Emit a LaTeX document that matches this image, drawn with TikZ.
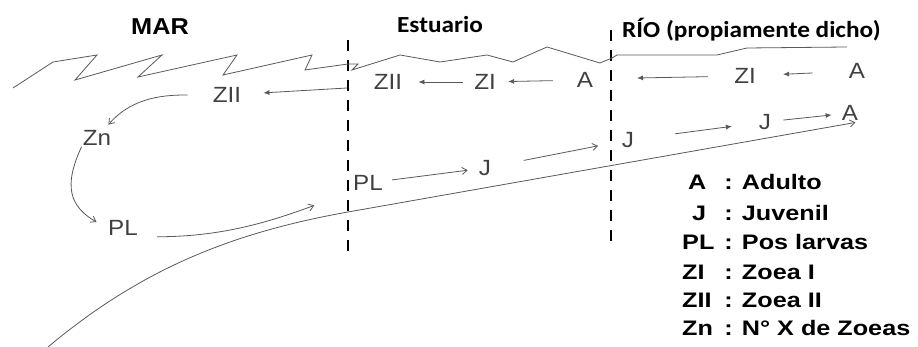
\documentclass[tikz,border=0pt]{standalone}
\usepackage{fontspec}
\setmainfont{Liberation Sans}
\newfontfamily\calibri{Carlito}
\usetikzlibrary{arrows.meta}
\definecolor{ink}{gray}{0.25}
\definecolor{wire}{gray}{0.35}
\begin{document}
\begin{tikzpicture}[x=1pt,y=1pt,
  lbl/.style={font=\fontsize{22}{26}\selectfont, text=ink, xscale=1.1, inner sep=1pt},
  head/.style={font=\fontsize{23}{27}\selectfont\bfseries, xscale=1.1, inner sep=0pt},
  key/.style={font=\fontsize{21}{25}\selectfont\bfseries, xscale=1.2, inner sep=0pt, anchor=base west},
  border/.style={line width=2pt, dash pattern=on 11pt off 9pt},
  shore/.style={wire, line width=0.8pt},
  fwd/.style={wire, line width=0.8pt, -{Latex[length=6pt,width=5pt]}},
  drift/.style={wire, line width=0.8pt, -{Straight Barb[length=5pt,width=7pt]}}]
\useasboundingbox (0,0) rectangle (918,347);
% zonas
\node[head] (mar) at (160,320) {MAR};
\node[head] (est) at (440,322) {\calibri Estuario};
\node[head, anchor=west] (rio) at (622,317) {\calibri RÍO (propiamente dicho)};
\coordinate (eTop) at (348,307); \coordinate (eBot) at (348,92);
\coordinate (rTop) at (611,317); \coordinate (rBot) at (611,100);
\draw[border] (eTop) -- (eBot);
\draw[border] (rTop) -- (rBot);
% costa
\draw[shore] (13,259) -- (53,285) -- (97,292) -- (75,267) -- (162,292) -- (138,270) -- (237,292)
  -- (223,272) -- (312,292) -- (305,277) -- (348,283) -- (358,283) -- (352,277) -- (400,292)
  -- (440,285) -- (487,292) -- (513,285) -- (547,300) -- (600,284) -- (612,289) -- (617,292)
  -- (717,292) -- (747,299) -- (847,300);
\coordinate (sea) at (48,0);
\coordinate (bank) at (348,135);
% estadios
\node[lbl] (ziiM) at (227,252) {ZII};
\node[lbl] (zn) at (97,209) {Zn};
\node[lbl] (plM) at (123,119) {PL};
\node[lbl] (plE) at (368,164) {PL};
\node[lbl] (jE) at (485,179) {J};
\node[lbl] (ziiE) at (388,265) {ZII};
\node[lbl] (ziE) at (485,265) {ZI};
\node[lbl] (aE) at (585,267) {A};
\node[lbl] (ziR) at (745,271) {ZI};
\node[lbl] (aR1) at (857,276) {A};
\node[lbl] (jR1) at (628,207) {J};
\node[lbl] (jR2) at (765,225) {J};
\node[lbl] (aR2) at (850,234) {A};
% migracion
\coordinate (gate) at (347,259);
\coordinate (mouth) at (637,269);
\draw[fwd, shorten >=21pt] (gate) -- (ziiM);
\draw[fwd, shorten <=10pt, shorten >=15pt] (ziE) -- (ziiE);
\draw[fwd, shorten <=23pt, shorten >=11pt] (aE) -- (ziE);
\draw[fwd, shorten <=25pt] (ziR) -- (mouth);
\draw[fwd, shorten <=35pt, shorten >=26pt] (aR1) -- (ziR);
\draw[fwd, shorten <=40pt, shorten >=26pt] (jR1) -- (jR2);
\draw[fwd, shorten <=11pt, shorten >=9pt] (jR2) -- (aR2);
\draw[drift, shorten <=32pt, shorten >=23pt] (jE) -- (jR1);
\draw[drift, shorten <=8pt, shorten >=10pt] (plE) -- (jE);
\draw[drift, shorten <=24pt, shorten >=6pt] (ziiM) to[out=180,in=50] (zn);
\draw[drift, shorten >=12pt] (zn.south west) to[out=245,in=150,looseness=1.3] (plM.west);
\draw[drift, shorten <=18pt, shorten >=40pt] (plM.south east) to[out=0,in=200] (plE.south west);
\draw[drift, shorten >=4pt] (sea) .. controls (140,77) and (230,114) .. (bank) -- (aR2.south east);
% leyenda
\node[key] (kA) at (688,157.5) {A};
\node[key] (dA) at (724,157.5) {: Adulto};
\node[key] (kJ) at (692,126.5) {J};
\node[key] (dJ) at (724,126.5) {: Juvenil};
\node[key] (kPL) at (682,97.5) {PL};
\node[key] (dPL) at (724,97.5) {: Pos larvas};
\node[key] (kZI) at (682,67.5) {ZI};
\node[key] (dZI) at (724,67.5) {: Zoea I};
\node[key] (kZII) at (682,39.5) {ZII};
\node[key] (dZII) at (724,39.5) {: Zoea II};
\node[key] (kZn) at (682,11.5) {Zn};
\node[key] (dZn) at (724,11.5) {: N° X de Zoeas};
\end{tikzpicture}
\end{document}
